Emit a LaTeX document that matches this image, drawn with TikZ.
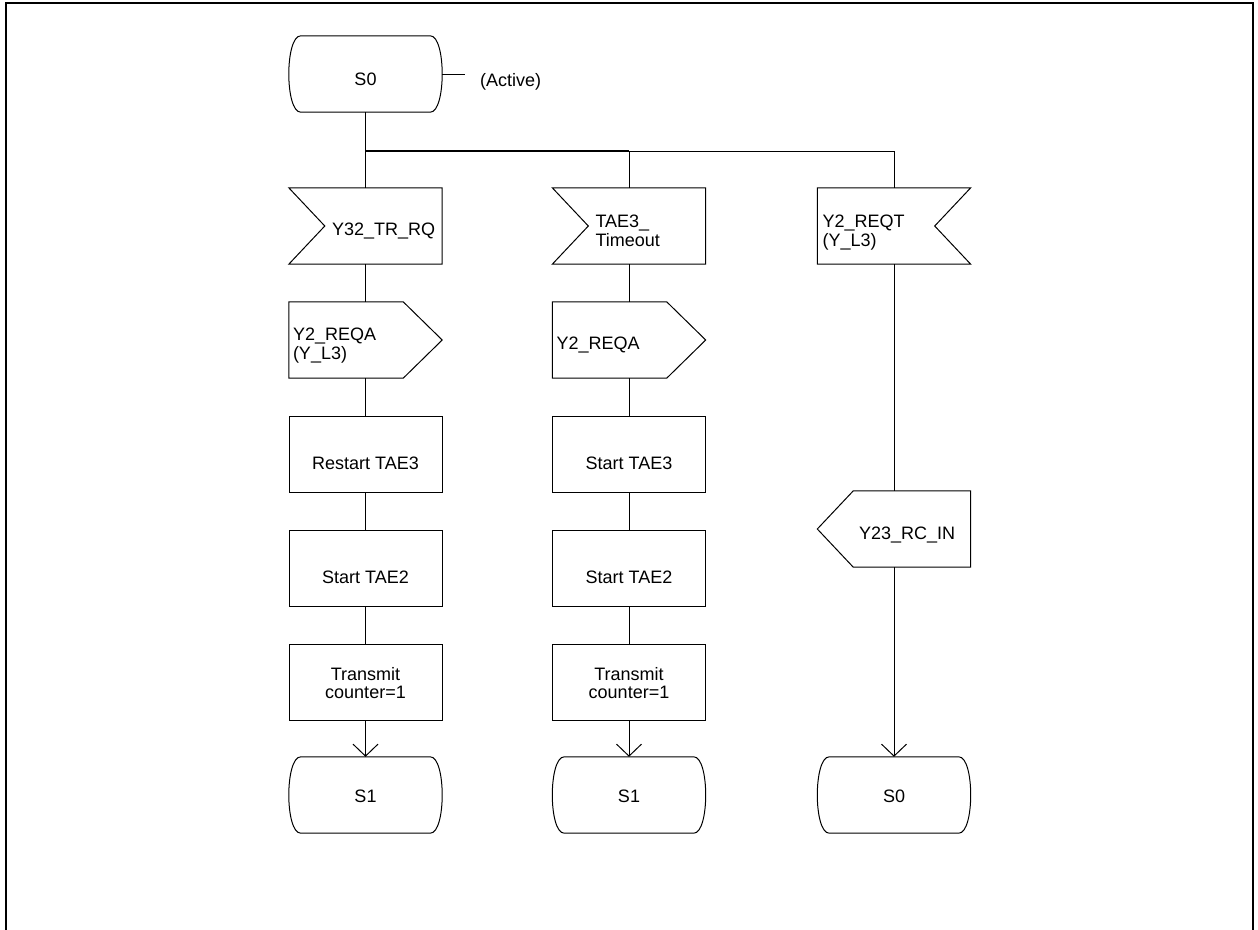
\documentclass[tikz,border=0pt]{standalone}
\usepackage{fontspec}
\setmainfont{Liberation Sans}
\usetikzlibrary{arrows.meta,calc}

% left-aligned text in a 153pt-wide box: #1 = left offset, #2 = vertical shift, #3 = lines
\newcommand\ltxt[3]{\raisebox{#2}[\height][\depth]{\makebox[153pt][l]{\hspace*{#1}\begin{tabular}{@{}l@{}}#3\end{tabular}}}}
% centred text: #1 = vertical shift, #2 = lines
\newcommand\ctxt[2]{\raisebox{#1}[\height][\depth]{\begin{tabular}{@{}c@{}}#2\end{tabular}}}

\newcommand\inshape[1]{\draw[ln] (#1.north west) -- (#1.north east) -- (#1.south east) -- (#1.south west) -- ($(#1.west)+(36,0)$) -- cycle;}
\newcommand\inshapeR[1]{\draw[ln] (#1.north west) -- (#1.north east) -- ($(#1.east)+(-36,0)$) -- (#1.south east) -- (#1.south west) -- cycle;}
\newcommand\outshape[1]{\draw[ln] (#1.north west) -- ($(#1.north east)+(-39,0)$) -- (#1.east) -- ($(#1.south east)+(-39,0)$) -- (#1.south west) -- cycle;}
\newcommand\outshapeL[1]{\draw[ln] ($(#1.north west)+(36,0)$) -- (#1.north east) -- (#1.south east) -- ($(#1.south west)+(36,0)$) -- (#1.west) -- cycle;}
\newcommand\stateshape[1]{\draw[ln] ($(#1.north west)+(12,0)$) -- ($(#1.north east)+(-12,0)$)
  .. controls ($(#1.north east)+(4,0)$) and ($(#1.south east)+(4,0)$) .. ($(#1.south east)+(-12,0)$)
  -- ($(#1.south west)+(12,0)$)
  .. controls ($(#1.south west)+(-4,0)$) and ($(#1.north west)+(-4,0)$) .. cycle;}

\begin{document}
\begin{tikzpicture}[x=1pt,y=-1pt,
  ln/.style={line width=1pt,draw=black},
  thk/.style={line width=1.8pt,draw=black},
  sdl/.style={minimum width=153pt,minimum height=76pt,inner sep=0pt,font=\fontsize{18}{18}\selectfont},
  taskbox/.style={sdl,draw=black,line width=1pt},
  arr/.style={ln,-{Straight Barb[length=12pt,width=25pt]}}
]
\useasboundingbox (0,0) rectangle (1258,929);
\draw[line width=2pt] (6,940) -- (6,3) -- (1253,3) -- (1253,940);

% start state
\node[sdl] (s0) at (365.5,74) {\ctxt{-8.3pt}{S0}};
\stateshape{s0}
\node[font=\fontsize{18}{18}\selectfont,inner xsep=15pt,inner ysep=0pt,anchor=west] (act) at (465,74) {\ctxt{-8.8pt}{(Active)}};
\draw[ln] (s0.east) -- (act.west);

% branch points
\coordinate (b1) at (365.5,151);
\coordinate (b2) at (629,151);
\coordinate (b3) at (894,151);

% column 1
\node[sdl] (in1) at (365.5,226) {\ltxt{43pt}{-6pt}{Y32\_TR\_RQ}};
\inshape{in1}
\node[sdl] (o1) at (365.5,340) {\ltxt{4pt}{-6.6pt}{Y2\_REQA\\(Y\_L3)}};
\outshape{o1}
\node[taskbox] (t11) at (365.5,454) {\ctxt{-11.8pt}{Restart TAE3}};
\node[taskbox] (t12) at (365.5,568) {\ctxt{-11.8pt}{Start TAE2}};
\node[taskbox] (t13) at (365.5,682) {\ctxt{-3.4pt}{Transmit\\counter=1}};
\node[sdl] (st1) at (365.5,795) {\ctxt{-4pt}{S1}};
\stateshape{st1}

% column 2
\node[sdl] (in2) at (629,226) {\ltxt{43pt}{-7.4pt}{TAE3\_\\Timeout}};
\inshape{in2}
\node[sdl] (o2) at (629,340) {\ltxt{4pt}{-6pt}{Y2\_REQA}};
\outshape{o2}
\node[taskbox] (t21) at (629,454) {\ctxt{-11.8pt}{Start TAE3}};
\node[taskbox] (t22) at (629,568) {\ctxt{-11.8pt}{Start TAE2}};
\node[taskbox] (t23) at (629,682) {\ctxt{-3.4pt}{Transmit\\counter=1}};
\node[sdl] (st2) at (629,795) {\ctxt{-4pt}{S1}};
\stateshape{st2}

% column 3
\node[sdl] (in3) at (894,226) {\ltxt{5pt}{-7.4pt}{Y2\_REQT\\(Y\_L3)}};
\inshapeR{in3}
\node[sdl] (o3) at (894,529) {\ltxt{41.5pt}{-6.8pt}{Y23\_RC\_IN}};
\outshapeL{o3}
\node[sdl] (st3) at (894,795) {\ctxt{-4pt}{S0}};
\stateshape{st3}

% connectors
\draw[thk] (s0.south) -- (b1) -- (b2);
\draw[ln] (b2) -- (b3);
\draw[ln] (b1) -- (in1.north);
\draw[ln] (b2) -- (in2.north);
\draw[ln] (b3) -- (in3.north);

\draw[ln] (in1.south) -- (o1.north);
\draw[ln] (o1.south) -- (t11.north);
\draw[ln] (t11.south) -- (t12.north);
\draw[ln] (t12.south) -- (t13.north);
\draw[arr] (t13.south) -- (st1.north);

\draw[ln] (in2.south) -- (o2.north);
\draw[ln] (o2.south) -- (t21.north);
\draw[ln] (t21.south) -- (t22.north);
\draw[ln] (t22.south) -- (t23.north);
\draw[arr] (t23.south) -- (st2.north);

\draw[ln] (in3.south) -- (o3.north);
\draw[arr] (o3.south) -- (st3.north);
\end{tikzpicture}
\end{document}
